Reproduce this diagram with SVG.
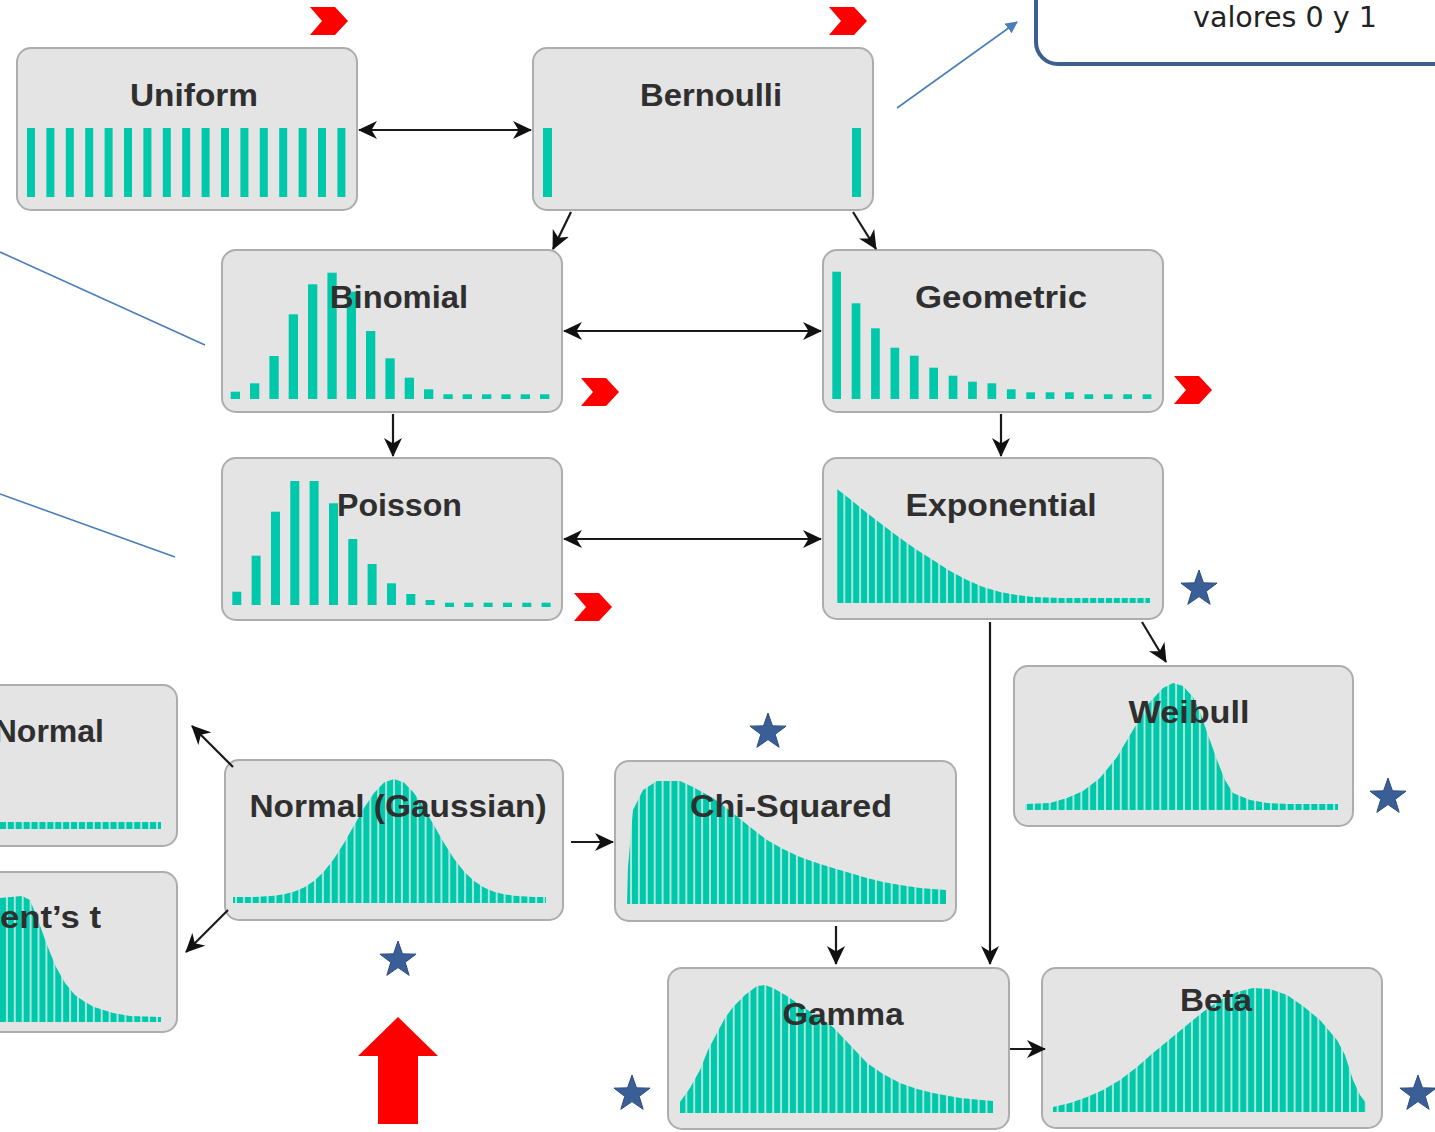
<svg xmlns="http://www.w3.org/2000/svg" width="1435" height="1132" viewBox="0 0 1435 1132">
<defs>
<style>
.box{fill:#e4e4e4;stroke:#adadad;stroke-width:2}
.t{font-family:"Liberation Sans",Arial,sans-serif;font-weight:700;font-size:32px;fill:#2f2f2f;text-anchor:middle}
.bar{fill:#00c8aa}
.crv{fill:url(#stripes)}
.con{stroke:#1a1a1a;stroke-width:2.2;fill:none;marker-end:url(#arr)}
.dbl{marker-start:url(#arr)}
.chev{fill:#ff0000}
.star{fill:#3a5e96;stroke:#2d4d80;stroke-width:1}
.blue{stroke:#4a7ebb;stroke-width:1.6;fill:none}
</style>
<pattern id="stripes" patternUnits="userSpaceOnUse" x="0" y="0" width="7.9" height="10">
<rect x="0" y="0" width="7.9" height="10" fill="#a9e6dc"/>
<rect x="0" y="0" width="5.9" height="10" fill="#00c8aa"/>
</pattern>
<marker id="arr" viewBox="0 0 19 19" refX="18" refY="9.5" markerWidth="19" markerHeight="19" orient="auto-start-reverse" markerUnits="userSpaceOnUse">
<path d="M0,0.5 L19,9.5 L0,18.5 L5.5,9.5 Z" fill="#111"/>
</marker>
<marker id="barr" viewBox="0 0 12 12" refX="11" refY="6" markerWidth="12" markerHeight="12" orient="auto" markerUnits="userSpaceOnUse">
<path d="M0,0 L12,6 L0,12 Z" fill="#4a7ebb"/>
</marker>
<path id="starp" d="M0,-19 L4.47,-6.15 L18.07,-5.87 L7.23,2.35 L11.17,15.37 L0,7.6 L-11.17,15.37 L-7.23,2.35 L-18.07,-5.87 L-4.47,-6.15 Z"/>
<path id="chevp" d="M0,0 L25,0 L38,14 L25,28 L0,28 L12,14 Z"/>
</defs>
<rect width="1435" height="1132" fill="#ffffff"/>

<!-- callout -->
<g id="callout">
<rect x="1036" y="-60" width="460" height="124" rx="22" fill="#ffffff" stroke="#3d5f8f" stroke-width="4"/>
<text x="1285" y="27" font-family="'DejaVu Sans',sans-serif" font-size="28" fill="#222" text-anchor="middle" textLength="184" lengthAdjust="spacingAndGlyphs">valores 0 y 1</text>
</g>
<g id="annotations">
<path class="blue" d="M897,108 L1017,22" marker-end="url(#barr)"/>
<path class="blue" d="M0,252 L205,345"/>
<path class="blue" d="M0,494 L175,557"/>
</g>

<!-- Uniform -->
<g id="node-uniform">
<rect class="box" x="17" y="48" width="340" height="162" rx="14"/>
<g class="bar">
<rect x="27" y="128" width="8" height="69"/><rect x="46.4" y="128" width="8" height="69"/><rect x="65.8" y="128" width="8" height="69"/><rect x="85.2" y="128" width="8" height="69"/><rect x="104.6" y="128" width="8" height="69"/><rect x="124" y="128" width="8" height="69"/><rect x="143.4" y="128" width="8" height="69"/><rect x="162.8" y="128" width="8" height="69"/><rect x="182.2" y="128" width="8" height="69"/><rect x="201.6" y="128" width="8" height="69"/><rect x="221" y="128" width="8" height="69"/><rect x="240.4" y="128" width="8" height="69"/><rect x="259.8" y="128" width="8" height="69"/><rect x="279.2" y="128" width="8" height="69"/><rect x="298.6" y="128" width="8" height="69"/><rect x="318" y="128" width="8" height="69"/><rect x="337.4" y="128" width="8" height="69"/>
</g>
<text class="t" x="194" y="106" textLength="128" lengthAdjust="spacingAndGlyphs">Uniform</text>
</g>

<!-- Bernoulli -->
<g id="node-bernoulli">
<rect class="box" x="533" y="48" width="340" height="162" rx="14"/>
<rect class="bar" x="543" y="128" width="9" height="69"/>
<rect class="bar" x="852" y="128" width="9" height="69"/>
<text class="t" x="711" y="106" textLength="142" lengthAdjust="spacingAndGlyphs">Bernoulli</text>
</g>

<!-- Binomial -->
<g id="node-binomial">
<rect class="box" x="222" y="250" width="340" height="162" rx="14"/>
<g class="bar">
<rect x="230.7" y="391.7" width="9.3" height="7.3"/>
<rect x="250" y="383.3" width="9.3" height="15.7"/>
<rect x="269.4" y="356" width="9.3" height="43"/>
<rect x="288.7" y="314.3" width="9.3" height="84.7"/>
<rect x="308" y="284.3" width="9.3" height="114.7"/>
<rect x="327.4" y="272.7" width="9.3" height="126.3"/>
<rect x="346.7" y="291.7" width="9.3" height="107.3"/>
<rect x="366" y="331" width="9.3" height="68"/>
<rect x="385.4" y="358.3" width="9.3" height="40.7"/>
<rect x="404.7" y="377.7" width="9.3" height="21.3"/>
<rect x="424" y="389.3" width="9.3" height="9.7"/>
<rect x="443.4" y="394.3" width="9.3" height="4.7"/>
<rect x="462.7" y="394.3" width="9.3" height="4.7"/>
<rect x="482" y="394.3" width="9.3" height="4.7"/>
<rect x="501.4" y="394.3" width="9.3" height="4.7"/>
<rect x="520.7" y="394.3" width="9.3" height="4.7"/>
<rect x="540" y="394.3" width="9.3" height="4.7"/>
</g>
<text class="t" x="399" y="308" textLength="138" lengthAdjust="spacingAndGlyphs">Binomial</text>
</g>

<!-- Geometric -->
<g id="node-geometric">
<rect class="box" x="823" y="250" width="340" height="162" rx="14"/>
<g class="bar">
<rect x="832.3" y="271.7" width="8.7" height="127.3"/>
<rect x="851.7" y="303.3" width="8.7" height="95.7"/>
<rect x="871.1" y="328.3" width="8.7" height="70.7"/>
<rect x="890.5" y="347.7" width="8.7" height="51.3"/>
<rect x="909.9" y="355.7" width="8.7" height="43.3"/>
<rect x="929.3" y="367.7" width="8.7" height="31.3"/>
<rect x="948.7" y="375.7" width="8.7" height="23.3"/>
<rect x="968.1" y="381.7" width="8.7" height="17.3"/>
<rect x="987.5" y="383.3" width="8.7" height="15.7"/>
<rect x="1006.9" y="389.3" width="8.7" height="9.7"/>
<rect x="1026.3" y="392.3" width="8.7" height="6.7"/>
<rect x="1045.7" y="392.3" width="8.7" height="6.7"/>
<rect x="1065.1" y="392.3" width="8.7" height="6.7"/>
<rect x="1084.5" y="394.3" width="8.7" height="4.7"/>
<rect x="1103.9" y="394.3" width="8.7" height="4.7"/>
<rect x="1123.3" y="394.3" width="8.7" height="4.7"/>
<rect x="1142.7" y="394.3" width="8.7" height="4.7"/>
</g>
<text class="t" x="1001" y="308" textLength="172" lengthAdjust="spacingAndGlyphs">Geometric</text>
</g>

<!-- Poisson -->
<g id="node-poisson">
<rect class="box" x="222" y="458" width="340" height="162" rx="14"/>
<g class="bar">
<rect x="232.3" y="591.7" width="9" height="13.3"/>
<rect x="251.6" y="555.7" width="9" height="49.3"/>
<rect x="271" y="511.7" width="9" height="93.3"/>
<rect x="290.3" y="481" width="9" height="124"/>
<rect x="309.6" y="481" width="9" height="124"/>
<rect x="329" y="503.3" width="9" height="101.7"/>
<rect x="348.3" y="539" width="9" height="66"/>
<rect x="367.6" y="564" width="9" height="41"/>
<rect x="387" y="583.3" width="9" height="21.7"/>
<rect x="406.3" y="594" width="9" height="11"/>
<rect x="425.6" y="600" width="9" height="5"/>
<rect x="445" y="602.7" width="9" height="4.3"/>
<rect x="464.3" y="602.7" width="9" height="4.3"/>
<rect x="483.6" y="602.7" width="9" height="4.3"/>
<rect x="503" y="602.7" width="9" height="4.3"/>
<rect x="522.3" y="602.7" width="9" height="4.3"/>
<rect x="541.6" y="602.7" width="9" height="4.3"/>
</g>
<text class="t" x="399.5" y="516" textLength="125" lengthAdjust="spacingAndGlyphs">Poisson</text>
</g>

<!-- Exponential -->
<g id="node-exponential">
<rect class="box" x="823" y="458" width="340" height="161" rx="14"/>
<path class="crv" d="M837,603 L837,489 L850,499 L867,513 L884,526 L900,538 L917,550 L933,560 L950,571 L967,580 L983,587 L1000,592 L1017,595 L1033,597 L1060,598 L1150,598 L1150,603 Z"/>
<text class="t" x="1001" y="516" textLength="191" lengthAdjust="spacingAndGlyphs">Exponential</text>
</g>

<!-- Weibull -->
<g id="node-weibull">
<rect class="box" x="1014" y="666" width="339" height="160" rx="14"/>
<path class="crv" d="M1025,810 L1025,804 L1050,803 L1067,798 L1083,791 L1100,778 L1117,757 L1133,730 L1150,702 L1163,688 L1173,683 L1183,686 L1193,697 L1200,712 L1208,735 L1217,760 L1225,780 L1233,793 L1250,800 L1267,803 L1290,804 L1338,804 L1338,810 Z"/>
<text class="t" x="1189" y="723" textLength="121" lengthAdjust="spacingAndGlyphs">Weibull</text>
</g>

<!-- Log-normal (partially visible) -->
<g id="node-lognormal">
<rect class="box" x="-30" y="685" width="207" height="161" rx="14"/>
<path class="crv" d="M0,829 L0,822 L161,822 L161,829 Z"/>
<text class="t" x="104" y="742" style="text-anchor:end">Normal</text>
</g>

<!-- Student's t (partially visible) -->
<g id="node-studentt">
<rect class="box" x="-30" y="872" width="207" height="160" rx="14"/>
<path class="crv" d="M0,1022 L0,898 L22,896 L30,900 L38,920 L47,945 L56,967 L65,983 L75,995 L85,1002 L94,1007 L113,1013 L130,1016 L161,1017 L161,1022 Z"/>
<text class="t" x="101" y="928" style="text-anchor:end" textLength="101" lengthAdjust="spacingAndGlyphs">ent’s t</text>
</g>

<!-- Normal (Gaussian) -->
<g id="node-normal">
<rect class="box" x="225" y="760" width="338" height="160" rx="14"/>
<path class="crv" d="M233,903 L233,897 L254,897 L274,895.7 L284,894.3 L294,891.8 L304,887.6 L314,881 L324,871.5 L334,858.7 L344,843 L354,825.4 L364,807.9 L374,792.9 L384,782.6 L394,779 L404,782.6 L414,792.9 L424,807.9 L434,825.4 L444,843 L454,858.7 L464,871.5 L474,881 L484,887.6 L494,891.8 L504,894.3 L514,895.7 L534,897 L546,897 L546,903 Z"/>
<text class="t" x="398" y="817" textLength="297" lengthAdjust="spacingAndGlyphs">Normal (Gaussian)</text>
</g>

<!-- Chi-Squared -->
<g id="node-chisquared">
<rect class="box" x="615" y="761" width="341" height="160" rx="14"/>
<path class="crv" d="M627,904 L628,867 L633,810 L643,790 L657,781 L680,781 L693,787 L713,798 L733,813 L750,827 L767,840 L783,849 L800,857 L817,863 L833,868 L850,873 L867,878 L883,882 L900,885 L920,888 L946,890 L946,904 Z"/>
<text class="t" x="791" y="817" textLength="202" lengthAdjust="spacingAndGlyphs">Chi-Squared</text>
</g>

<!-- Gamma -->
<g id="node-gamma">
<rect class="box" x="668" y="968" width="341" height="161" rx="14"/>
<path class="crv" d="M680,1113 L680,1102 L690,1088 L700,1070 L708,1050 L717,1033 L725,1018 L733,1007 L745,995 L757,986 L765,985 L773,988 L787,996 L800,1005 L817,1016 L833,1027 L850,1045 L867,1063 L883,1074 L900,1083 L917,1089 L933,1093 L960,1098 L993,1101 L993,1113 Z"/>
<text class="t" x="843" y="1025" textLength="121" lengthAdjust="spacingAndGlyphs">Gamma</text>
</g>

<!-- Beta -->
<g id="node-beta">
<rect class="box" x="1042" y="968" width="340" height="160" rx="14"/>
<path class="crv" d="M1053,1112 L1053,1107 L1070,1103 L1087,1097 L1103,1090 L1120,1080 L1137,1067 L1153,1053 L1170,1039 L1187,1025 L1203,1012 L1220,1000 L1237,992 L1253,988 L1270,989 L1287,995 L1303,1006 L1320,1020 L1337,1040 L1345,1055 L1353,1080 L1360,1095 L1366,1103 L1366,1112 Z"/>
<text class="t" x="1216" y="1011" textLength="72" lengthAdjust="spacingAndGlyphs">Beta</text>
</g>

<!-- connectors -->
<g id="connectors">
<path class="con dbl" d="M359,130 L531,130"/>
<path class="con" d="M571,212 L553,249"/>
<path class="con" d="M853,212 L876,249"/>
<path class="con dbl" d="M564,331 L821,331"/>
<path class="con" d="M393,414 L393,456"/>
<path class="con" d="M1001,414 L1001,456"/>
<path class="con dbl" d="M564,539 L821,539"/>
<path class="con" d="M1142,622 L1166,662"/>
<path class="con" d="M990,622 L990,964"/>
<path class="con" d="M836,926 L836,964"/>
<path class="con" d="M571,842 L613,842"/>
<path class="con" d="M1010,1049 L1045,1049"/>
<path class="con" d="M233,767 L192,726"/>
<path class="con" d="M228,910 L186,952"/>
</g>

<!-- markers: chevrons, stars, big arrow -->
<g id="chevrons" class="chev">
<use href="#chevp" x="310" y="7"/>
<use href="#chevp" x="829" y="7"/>
<use href="#chevp" x="581" y="378"/>
<use href="#chevp" x="1174" y="376"/>
<use href="#chevp" x="574" y="593"/>
</g>
<g id="stars" class="star">
<use href="#starp" x="1199" y="589"/>
<use href="#starp" x="768" y="732"/>
<use href="#starp" x="1388" y="797"/>
<use href="#starp" x="398" y="960"/>
<use href="#starp" x="632" y="1094"/>
<use href="#starp" x="1418" y="1094"/>
</g>
<g id="big-arrow">
<path d="M398,1017 L438,1056 L418,1056 L418,1124 L378,1124 L378,1056 L358,1056 Z" fill="#ff0000"/>
</g>
</svg>
